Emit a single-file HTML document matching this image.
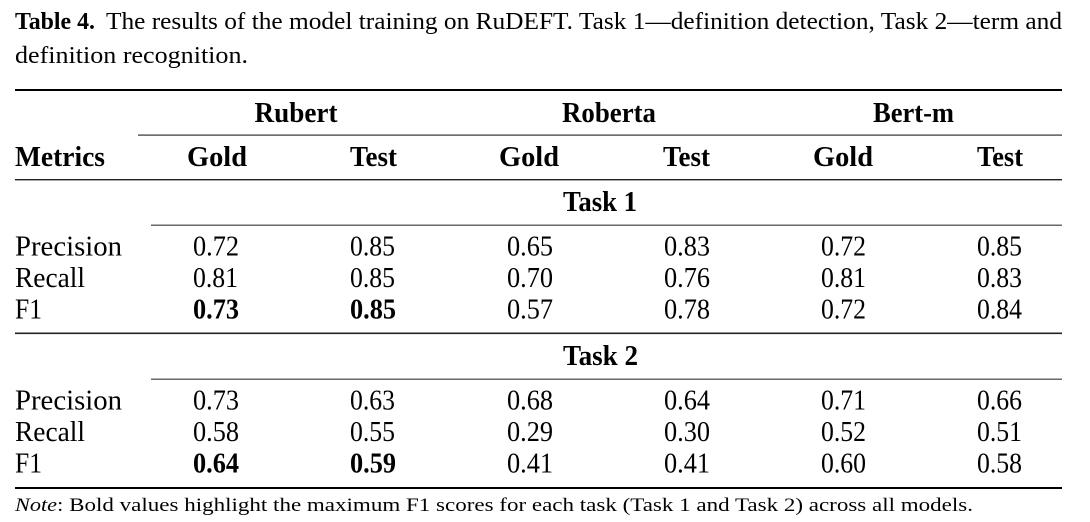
<!DOCTYPE html>
<html>
<head>
<meta charset="utf-8">
<style>
  html,body{margin:0;padding:0;background:#fff;}
  body{width:1090px;height:522px;overflow:hidden;}
  svg{display:block;}
  text{font-family:"Liberation Serif","DejaVu Serif",serif;fill:#000;}
  .b{font-weight:bold;}
  .c{font-size:28px;}
  .t{font-size:24px;}
  .n{font-size:19px;}
</style>
</head>
<body>
<svg width="1090" height="522" viewBox="0 0 1090 522" xmlns="http://www.w3.org/2000/svg">
  <rect x="0" y="0" width="1090" height="522" fill="#fff"/>

  <!-- Caption -->
  <text class="t b" x="15" y="29" textLength="80" lengthAdjust="spacingAndGlyphs">Table 4.</text>
  <text class="t" x="106" y="29" textLength="956" lengthAdjust="spacingAndGlyphs">The results of the model training on RuDEFT. Task 1—definition detection, Task 2—term and</text>
  <text class="t" x="15" y="63" textLength="233" lengthAdjust="spacingAndGlyphs">definition recognition.</text>

  <!-- Rules -->
  <rect x="15" y="89" width="1047" height="2" fill="#000"/>
  <rect x="138" y="134.5" width="924" height="1.2" fill="#333"/>
  <rect x="15" y="179" width="1047" height="1.4" fill="#222"/>
  <rect x="151" y="224.6" width="911" height="1.2" fill="#444"/>
  <rect x="15" y="332.5" width="1047" height="1.6" fill="#222"/>
  <rect x="151" y="378.6" width="911" height="1.2" fill="#444"/>
  <rect x="15" y="487" width="1047" height="2" fill="#000"/>

  <!-- Group headers -->
  <text class="c b" x="254.5" y="122" textLength="83" lengthAdjust="spacingAndGlyphs">Rubert</text>
  <text class="c b" x="562" y="122" textLength="94" lengthAdjust="spacingAndGlyphs">Roberta</text>
  <text class="c b" x="873" y="122" textLength="81" lengthAdjust="spacingAndGlyphs">Bert-m</text>

  <!-- Column headers -->
  <text class="c b" x="15" y="166" textLength="90" lengthAdjust="spacingAndGlyphs">Metrics</text>
  <text class="c b" x="187" y="166" textLength="60" lengthAdjust="spacingAndGlyphs">Gold</text>
  <text class="c b" x="350" y="166" textLength="47" lengthAdjust="spacingAndGlyphs">Test</text>
  <text class="c b" x="499" y="166" textLength="60" lengthAdjust="spacingAndGlyphs">Gold</text>
  <text class="c b" x="663" y="166" textLength="47" lengthAdjust="spacingAndGlyphs">Test</text>
  <text class="c b" x="813" y="166" textLength="60" lengthAdjust="spacingAndGlyphs">Gold</text>
  <text class="c b" x="977" y="166" textLength="46" lengthAdjust="spacingAndGlyphs">Test</text>

  <!-- Task 1 -->
  <text class="c b" x="563" y="211" textLength="74" lengthAdjust="spacingAndGlyphs">Task 1</text>

  <text class="c" x="15" y="255.5" textLength="107" lengthAdjust="spacingAndGlyphs">Precision</text>
  <text class="c" x="193" y="255.5" textLength="46" lengthAdjust="spacingAndGlyphs">0.72</text>
  <text class="c" x="350" y="255.5" textLength="45" lengthAdjust="spacingAndGlyphs">0.85</text>
  <text class="c" x="507" y="255.5" textLength="46" lengthAdjust="spacingAndGlyphs">0.65</text>
  <text class="c" x="664" y="255.5" textLength="46" lengthAdjust="spacingAndGlyphs">0.83</text>
  <text class="c" x="821" y="255.5" textLength="45" lengthAdjust="spacingAndGlyphs">0.72</text>
  <text class="c" x="977" y="255.5" textLength="45" lengthAdjust="spacingAndGlyphs">0.85</text>

  <text class="c" x="15" y="287" textLength="70" lengthAdjust="spacingAndGlyphs">Recall</text>
  <text class="c" x="193" y="287" textLength="45" lengthAdjust="spacingAndGlyphs">0.81</text>
  <text class="c" x="350" y="287" textLength="45" lengthAdjust="spacingAndGlyphs">0.85</text>
  <text class="c" x="507" y="287" textLength="46" lengthAdjust="spacingAndGlyphs">0.70</text>
  <text class="c" x="664" y="287" textLength="46" lengthAdjust="spacingAndGlyphs">0.76</text>
  <text class="c" x="821" y="287" textLength="45" lengthAdjust="spacingAndGlyphs">0.81</text>
  <text class="c" x="977" y="287" textLength="45" lengthAdjust="spacingAndGlyphs">0.83</text>

  <text class="c" x="15" y="318.5" textLength="27" lengthAdjust="spacingAndGlyphs">F1</text>
  <text class="c b" x="193" y="318.5" textLength="46" lengthAdjust="spacingAndGlyphs">0.73</text>
  <text class="c b" x="350" y="318.5" textLength="46" lengthAdjust="spacingAndGlyphs">0.85</text>
  <text class="c" x="507" y="318.5" textLength="46" lengthAdjust="spacingAndGlyphs">0.57</text>
  <text class="c" x="664" y="318.5" textLength="46" lengthAdjust="spacingAndGlyphs">0.78</text>
  <text class="c" x="821" y="318.5" textLength="45" lengthAdjust="spacingAndGlyphs">0.72</text>
  <text class="c" x="977" y="318.5" textLength="45" lengthAdjust="spacingAndGlyphs">0.84</text>

  <!-- Task 2 -->
  <text class="c b" x="563" y="365" textLength="75" lengthAdjust="spacingAndGlyphs">Task 2</text>

  <text class="c" x="15" y="409.5" textLength="107" lengthAdjust="spacingAndGlyphs">Precision</text>
  <text class="c" x="193" y="409.5" textLength="46" lengthAdjust="spacingAndGlyphs">0.73</text>
  <text class="c" x="350" y="409.5" textLength="45" lengthAdjust="spacingAndGlyphs">0.63</text>
  <text class="c" x="507" y="409.5" textLength="46" lengthAdjust="spacingAndGlyphs">0.68</text>
  <text class="c" x="664" y="409.5" textLength="46" lengthAdjust="spacingAndGlyphs">0.64</text>
  <text class="c" x="821" y="409.5" textLength="45" lengthAdjust="spacingAndGlyphs">0.71</text>
  <text class="c" x="977" y="409.5" textLength="45" lengthAdjust="spacingAndGlyphs">0.66</text>

  <text class="c" x="15" y="441" textLength="70" lengthAdjust="spacingAndGlyphs">Recall</text>
  <text class="c" x="193" y="441" textLength="46" lengthAdjust="spacingAndGlyphs">0.58</text>
  <text class="c" x="350" y="441" textLength="45" lengthAdjust="spacingAndGlyphs">0.55</text>
  <text class="c" x="507" y="441" textLength="46" lengthAdjust="spacingAndGlyphs">0.29</text>
  <text class="c" x="664" y="441" textLength="46" lengthAdjust="spacingAndGlyphs">0.30</text>
  <text class="c" x="821" y="441" textLength="45" lengthAdjust="spacingAndGlyphs">0.52</text>
  <text class="c" x="977" y="441" textLength="45" lengthAdjust="spacingAndGlyphs">0.51</text>

  <text class="c" x="15" y="472.5" textLength="27" lengthAdjust="spacingAndGlyphs">F1</text>
  <text class="c b" x="193" y="472.5" textLength="46" lengthAdjust="spacingAndGlyphs">0.64</text>
  <text class="c b" x="350" y="472.5" textLength="46" lengthAdjust="spacingAndGlyphs">0.59</text>
  <text class="c" x="507" y="472.5" textLength="46" lengthAdjust="spacingAndGlyphs">0.41</text>
  <text class="c" x="664" y="472.5" textLength="46" lengthAdjust="spacingAndGlyphs">0.41</text>
  <text class="c" x="821" y="472.5" textLength="45" lengthAdjust="spacingAndGlyphs">0.60</text>
  <text class="c" x="977" y="472.5" textLength="45" lengthAdjust="spacingAndGlyphs">0.58</text>

  <!-- Note -->
  <text class="n" x="15" y="511" font-style="italic" textLength="42" lengthAdjust="spacingAndGlyphs">Note</text>
  <text class="n" x="57" y="511" textLength="916" lengthAdjust="spacingAndGlyphs">: Bold values highlight the maximum F1 scores for each task (Task 1 and Task 2) across all models.</text>
</svg>
</body>
</html>
